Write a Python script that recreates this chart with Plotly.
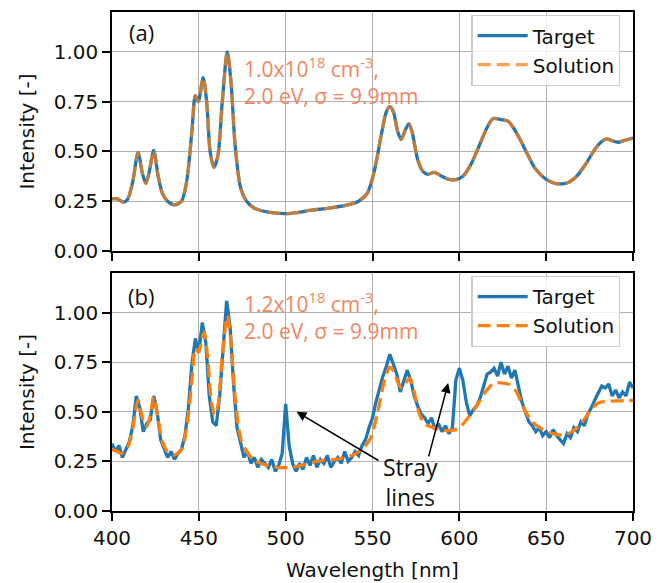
import plotly.graph_objects as go

# ---------------- data ----------------
# Panel (a): key points of the smooth spectra (target and solution overlap)
wl_a = [400, 403, 406.5, 409, 412, 415, 417.5, 419.5, 421.5, 424, 426.5, 429, 432, 436, 440,
        443, 446, 448, 449.7, 452.5, 454.5, 456.5, 458.7, 461, 463.5, 466.4, 468.5, 471, 474,
        477.5, 482, 490, 500, 508, 515, 525, 535, 542, 547, 551, 555, 558, 560, 562, 564.5,
        566.5, 569, 571, 573, 576, 579, 582, 585.5, 590, 594, 598, 602, 607, 612, 616, 619.5,
        624, 628, 631, 635, 639, 644, 650, 655, 659, 663, 668, 673, 678, 682, 685, 688, 691.5,
        695, 700]
target_a = [0.262, 0.262, 0.245, 0.26, 0.35, 0.495, 0.39, 0.34, 0.40, 0.505, 0.38, 0.29, 0.25,
            0.232, 0.25, 0.35, 0.60, 0.78, 0.75, 0.87, 0.75, 0.50, 0.42, 0.48, 0.75, 1.0, 0.85,
            0.52, 0.32, 0.25, 0.215, 0.195, 0.188, 0.195, 0.205, 0.215, 0.23, 0.25, 0.29, 0.40,
            0.58, 0.70, 0.725, 0.70, 0.60, 0.56, 0.61, 0.64, 0.59, 0.46, 0.40, 0.385, 0.395,
            0.375, 0.36, 0.358, 0.375, 0.44, 0.54, 0.62, 0.665, 0.66, 0.652, 0.62, 0.56, 0.49,
            0.41, 0.36, 0.34, 0.337, 0.345, 0.38, 0.44, 0.51, 0.55, 0.563, 0.553, 0.546, 0.555,
            0.567]
solution_a = list(target_a)

# Panel (b): smooth solution key points
wl_b_sol = [400, 402, 405.5, 409, 412, 415, 417.5, 420, 422, 424, 426.5, 429, 432, 436, 440,
            443, 446, 448, 449.7, 453, 455, 457, 459, 461, 463.5, 466.5, 468.5, 471, 474, 477.5,
            482, 490, 500, 510, 518, 530, 539, 545, 549, 553, 557, 560, 562.5, 565, 567, 569.5,
            571.5, 574, 577, 580, 585, 590, 595, 600, 605, 610, 615, 620, 625, 629, 633, 637,
            642, 648, 654, 660, 665, 670, 675, 680, 685, 690, 695, 700]
solution_b = [0.31, 0.305, 0.29, 0.32, 0.42, 0.56, 0.47, 0.425, 0.48, 0.575, 0.46, 0.35, 0.30,
              0.283, 0.31, 0.42, 0.66, 0.82, 0.80, 0.90, 0.78, 0.57, 0.485, 0.53, 0.78, 0.985,
              0.85, 0.56, 0.37, 0.30, 0.255, 0.228, 0.218, 0.232, 0.25, 0.262, 0.283, 0.32, 0.37,
              0.50, 0.66, 0.725, 0.70, 0.64, 0.62, 0.65, 0.67, 0.60, 0.49, 0.44, 0.42, 0.41,
              0.405, 0.42, 0.47, 0.53, 0.60, 0.645, 0.645, 0.637, 0.60, 0.52, 0.45, 0.41, 0.39,
              0.383, 0.40, 0.44, 0.50, 0.545, 0.552, 0.555, 0.556, 0.558]

# Panel (b): noisy measured target, every 2 nm from 400 to 700
wl_b = list(range(400, 701, 2))
target_b = [
    0.34, 0.30, 0.33, 0.27, 0.31, 0.35, 0.43, 0.58, 0.52, 0.40,   # 400-418
    0.44, 0.46, 0.58, 0.50, 0.36, 0.31, 0.27, 0.30, 0.26, 0.29,   # 420-438
    0.31, 0.38, 0.52, 0.74, 0.87, 0.80, 0.95, 0.85, 0.58, 0.45,   # 440-458
    0.43, 0.58, 0.82, 1.06, 0.93, 0.64, 0.42, 0.34, 0.27, 0.30,   # 460-478
    0.24, 0.27, 0.22, 0.26, 0.24, 0.22, 0.26, 0.20, 0.23, 0.29,   # 480-498
    0.54, 0.33, 0.24, 0.20, 0.24, 0.21, 0.27, 0.23, 0.28, 0.22,   # 500-518
    0.26, 0.24, 0.28, 0.22, 0.25, 0.27, 0.24, 0.30, 0.25, 0.27,   # 520-538
    0.30, 0.28, 0.33, 0.36, 0.42, 0.47, 0.55, 0.62, 0.68, 0.73,   # 540-558
    0.79, 0.74, 0.69, 0.60, 0.66, 0.71, 0.66, 0.58, 0.53, 0.49,   # 560-578
    0.47, 0.44, 0.47, 0.41, 0.44, 0.40, 0.43, 0.39, 0.42, 0.66,   # 580-598
    0.72, 0.66, 0.55, 0.48, 0.51, 0.53, 0.57, 0.63, 0.69, 0.70,   # 600-618
    0.72, 0.68, 0.75, 0.69, 0.73, 0.67, 0.71, 0.63, 0.55, 0.50,   # 620-638
    0.45, 0.43, 0.40, 0.42, 0.38, 0.40, 0.37, 0.41, 0.38, 0.36,   # 640-658
    0.34, 0.39, 0.37, 0.42, 0.40, 0.45, 0.43, 0.49, 0.52, 0.56,   # 660-678
    0.60, 0.63, 0.62, 0.64, 0.58, 0.61, 0.57, 0.60, 0.58, 0.65,   # 680-698
    0.62,                                                         # 700
]

y_ticks = [0.0, 0.25, 0.5, 0.75, 1.0]
x_ticks = [400, 450, 500, 550, 600, 650, 700]

BLUE = "#1f77b4"
ORANGE = "#ff7f0e"
NOTE = "#F4845F"
DASH = "13px,6px"

fig = go.Figure()
fig.add_trace(go.Scatter(x=wl_a, y=target_a, mode="lines", name="Target",
                         line=dict(color=BLUE, width=3.3, shape="spline", smoothing=0.8),
                         xaxis="x", yaxis="y", legend="legend"))
fig.add_trace(go.Scatter(x=wl_a, y=solution_a, mode="lines", name="Solution", opacity=0.72,
                         line=dict(color=ORANGE, width=3.3, dash=DASH, shape="spline", smoothing=0.8),
                         xaxis="x", yaxis="y", legend="legend"))
fig.add_trace(go.Scatter(x=wl_b, y=target_b, mode="lines", name="Target",
                         line=dict(color=BLUE, width=3.3),
                         xaxis="x2", yaxis="y2", legend="legend2"))
fig.add_trace(go.Scatter(x=wl_b_sol, y=solution_b, mode="lines", name="Solution",
                         line=dict(color=ORANGE, width=3.3, dash=DASH, shape="spline", smoothing=0.8),
                         xaxis="x2", yaxis="y2", legend="legend2"))

FS = 20
axis_common = dict(showline=True, linecolor="black", linewidth=1.5, mirror=True,
                   ticks="outside", ticklen=8, tickwidth=1.5, tickcolor="black",
                   showgrid=True, gridcolor="#b0b0b0", gridwidth=1.4, zeroline=False,
                   tickfont=dict(family="DejaVu Sans", size=FS, color="#111"))

legend_common = dict(xanchor="left", yanchor="top", itemwidth=50,
                     bgcolor="rgba(255,255,255,0.8)", bordercolor="#cccccc", borderwidth=1.2,
                     font=dict(family="DejaVu Sans", size=FS, color="#111"), tracegroupgap=2)

fig.update_layout(
    width=672, height=583,
    # page body has an 8px default margin, compensated here
    margin=dict(l=104, r=47, t=2, b=80),
    paper_bgcolor="white", plot_bgcolor="white",
    font=dict(family="DejaVu Sans", size=FS, color="#111"),
    xaxis=dict(domain=[0, 1], anchor="y", range=[400, 700], tickvals=x_ticks,
               showticklabels=False, **axis_common),
    yaxis=dict(domain=[0.521, 1.0], anchor="x", range=[0, 1.2], tickvals=y_ticks,
               tickformat=".2f", title=dict(text="Intensity [-]", standoff=14,
                                             font=dict(family="DejaVu Sans", size=FS)),
               **axis_common),
    xaxis2=dict(domain=[0, 1], anchor="y2", range=[400, 700], tickvals=x_ticks,
                title=dict(text="Wavelength [nm]", standoff=14,
                           font=dict(family="DejaVu Sans", size=FS)),
                **axis_common),
    yaxis2=dict(domain=[0, 0.477], anchor="x2", range=[0, 1.2], tickvals=y_ticks,
                tickformat=".2f", title=dict(text="Intensity [-]", standoff=14,
                                              font=dict(family="DejaVu Sans", size=FS)),
                **axis_common),
    legend=dict(x=0.69, y=0.994, **legend_common),
    legend2=dict(x=0.69, y=0.471, **legend_common),
    showlegend=True,
)

note_font = dict(family="Open Sans", size=21, color=NOTE)
label_font = dict(family="Open Sans", size=22, color="#111")
stray_font = dict(family="Open Sans", size=23, color="#111")

annotations = [
    dict(x=416.7, y=1.10, xref="x", yref="y", text="(a)", showarrow=False, font=label_font),
    dict(x=416.7, y=1.085, xref="x2", yref="y2", text="(b)", showarrow=False, font=label_font),
    dict(x=475.0, y=1.01, xref="x", yref="y", xanchor="left", yanchor="top", align="left",
         text="1.0x10<sup>18</sup> cm<sup>-3</sup>,<br>2.0 eV, σ = 9.9mm", showarrow=False,
         font=note_font),
    dict(x=475.0, y=1.14, xref="x2", yref="y2", xanchor="left", yanchor="top", align="left",
         text="1.2x10<sup>18</sup> cm<sup>-3</sup>,<br>2.0 eV, σ = 9.9mm", showarrow=False,
         font=note_font),
    dict(x=572.1, y=0.146, xref="x2", yref="y2", text="Stray<br>lines", showarrow=False,
         align="center", font=stray_font),
    dict(x=506.3, y=0.50, xref="x2", yref="y2", ax=554.3, ay=0.25, axref="x2", ayref="y2",
         text="", showarrow=True, arrowhead=2, arrowsize=1.3, arrowwidth=1.5,
         arrowcolor="black", standoff=0),
    dict(x=593.6, y=0.645, xref="x2", yref="y2", ax=582.1, ay=0.268, axref="x2", ayref="y2",
         text="", showarrow=True, arrowhead=2, arrowsize=1.3, arrowwidth=1.5,
         arrowcolor="black", standoff=0),
]
fig.update_layout(annotations=annotations)

fig.write_html("out.html")
